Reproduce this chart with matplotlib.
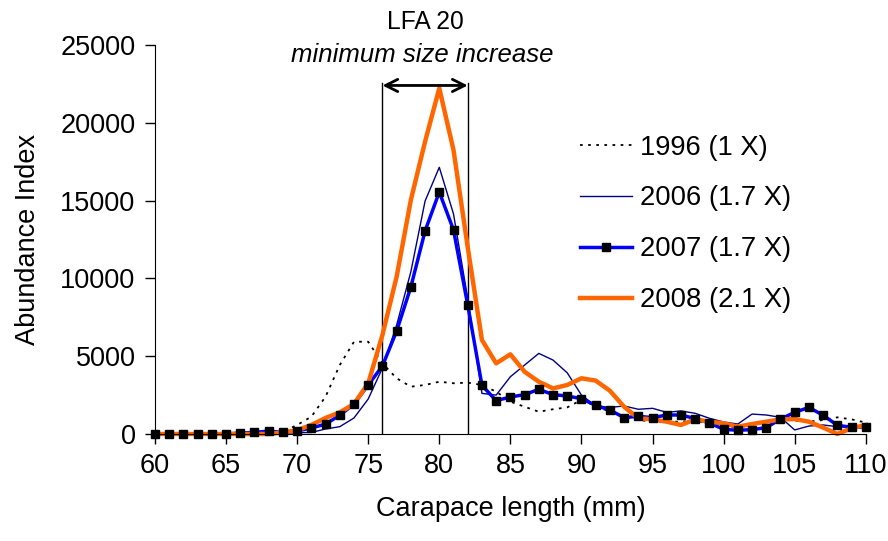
import matplotlib.pyplot as plt

plt.rcParams['font.family'] = ['Liberation Sans', 'DejaVu Sans']

# carapace length (mm)
lengths = list(range(60, 111))

# abundance index
y1996 = [0, 0, 0, 0, 0, 0, 0, 50, 100, 150, 580, 1110, 2400, 4430, 5930, 5930,
         4540, 3580, 3040, 3150, 3360, 3260, 3300, 3150, 2720, 2080, 1750, 1430,
         1590, 1710, 2190, 1800, 1430, 1110, 900, 790, 790, 790, 860, 640, 510,
         430, 580, 790, 940, 860, 790, 900, 1070, 940, 730]
y2006 = [0, 0, 0, 0, 0, 0, 0, 0, 0, 50, 80, 100, 320, 470, 1030, 2250,
         4240, 7000, 10430, 14970, 17140, 14140, 8700, 2610, 2500, 3680, 4430, 5180,
         4750, 3930, 2500, 1800, 1710, 1800, 1590, 1650, 1390, 1480, 1330, 1010, 770,
         640, 1280, 1220, 1070, 260, 510, 580, 470, 470, 470]
y2007 = [0, 0, 0, 0, 0, 0, 60, 100, 190, 100, 200, 380, 640, 1200, 1930, 3150,
         4370, 6620, 9450, 13050, 15550, 13110, 8290, 3130, 2140, 2380, 2530, 2870,
         2530, 2440, 2270, 1840, 1540, 1050, 1140, 1050, 1220, 1220, 990, 710, 300,
         240, 280, 410, 960, 1390, 1710, 1200, 560, 430, 450]
y2008 = [0, 0, 0, 0, 0, 0, 0, 0, 0, 100, 240, 580, 1030, 1390, 1930, 3260,
         6360, 10110, 15040, 18790, 22220, 18250, 12000, 6040, 4540, 5120, 4000, 3360,
         2930, 3150, 3580, 3430, 2780, 1750, 1010, 940, 790, 580, 940, 790, 690,
         470, 640, 790, 940, 960, 790, 410, 0, 370, 580]

labels = ['1996 (1 X)', '2006 (1.7 X)', '2007 (1.7 X)', '2008 (2.1 X)']

fig = plt.figure(figsize=(8.88, 5.41), dpi=100)
ax = fig.add_axes([0.1745, 0.1978, 0.975 - 0.1745, 0.9168 - 0.1978])

h96, = ax.plot(lengths, y1996, color='black', lw=1.3, ls=(0, (1.5, 3)), clip_on=False, zorder=2)
h06, = ax.plot(lengths, y2006, color='#000080', lw=1.0, clip_on=False, zorder=2.1)
h07, = ax.plot(lengths, y2007, color='#0000FF', lw=2.5, clip_on=False, zorder=2.2)
h08, = ax.plot(lengths, y2008, color='#FF6600', lw=3.2, clip_on=False, zorder=2.3)
# Excel puts the markers above all the lines
m07, = ax.plot(lengths, y2007, ls='none', marker='s', ms=6, mfc='black', mec='black',
               clip_on=False, zorder=3)

# minimum size increase bracket
ax.plot([76, 76], [0, 22560], color='black', lw=1)
ax.plot([82, 82], [0, 22560], color='black', lw=1)
ax.annotate('', xy=(76, 22400), xytext=(82, 22400),
            arrowprops=dict(arrowstyle='<->', color='black', lw=2,
                            mutation_scale=22, shrinkA=0, shrinkB=0))
ax.text(79.0, 26480, 'LFA 20', ha='center', va='center', fontsize=17.7, clip_on=False)
ax.text(78.8, 24360, 'minimum size increase', ha='center', va='center',
        fontsize=18.5, style='italic', clip_on=False)

ax.set_xlim(60, 110)
ax.set_ylim(0, 25000)
ax.set_xticks(range(60, 111, 5))
ax.set_yticks(range(0, 25001, 5000))
ax.tick_params(labelsize=19.5, length=7, width=1, pad=7)
for s in ['top', 'right']:
    ax.spines[s].set_visible(False)

ax.set_xlabel('Carapace length (mm)', fontsize=19.5, labelpad=12)
ax.set_ylabel('Abundance Index', fontsize=19.5, labelpad=14)

ax.legend([h96, h06, (h07, m07), h08], labels, loc='center left',
          bbox_to_anchor=(0.598, 0.54), frameon=False,
          fontsize=19.7, borderpad=0, borderaxespad=0, labelspacing=0.91,
          handlelength=1.9, handletextpad=0.3)

fig.savefig('out.png', dpi=100)
